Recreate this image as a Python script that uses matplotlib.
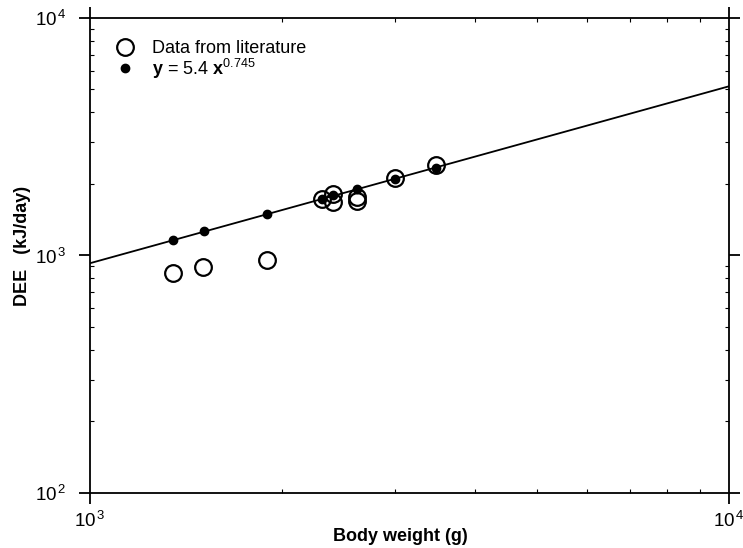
import matplotlib
matplotlib.use("Agg")
import matplotlib.pyplot as plt
import numpy as np
from matplotlib.ticker import LogLocator, FixedLocator, NullFormatter, FixedFormatter

plt.rcParams['font.family'] = ['Liberation Sans', 'DejaVu Sans']
plt.rcParams['mathtext.fontset'] = 'custom'
plt.rcParams['mathtext.rm'] = 'Liberation Sans'
plt.rcParams['mathtext.it'] = 'Liberation Sans:italic'
plt.rcParams['mathtext.bf'] = 'Liberation Sans:bold'

# Data from literature (open circles)
lit_weight = [1350, 1505, 1895, 2305, 2403, 2403, 2615, 2615, 3001, 3479]
lit_dee = [847, 897, 957, 1724, 1815, 1685, 1760, 1690, 2114, 2404]

# Predicted values y = 5.4 x^0.745 (filled dots)
pred_weight = [1350, 1508, 1895, 2305, 2403, 2615, 3001, 3479]
pred_dee = [1162, 1272, 1495, 1724, 1798, 1900, 2100, 2329]

fit_a = 5.4
fit_b = 0.745
x_range = [1000, 10000]
y_range = [100, 10000]

fig = plt.figure(figsize=(7.43, 5.48), dpi=100)
ax = fig.add_axes([0.1211, 0.1004, 0.8601, 0.8668])
ax.set_xscale('log')
ax.set_yscale('log')
ax.set_xlim(*x_range)
ax.set_ylim(*y_range)

xl = np.logspace(3, 4, 200)
ax.plot(xl, fit_a * xl ** fit_b, color='black', lw=1.3, zorder=2)

ax.plot(lit_weight, lit_dee, 'o', ms=12, mfc='none', mec='black', mew=1.6,
        zorder=3, label='Data from literature')
ax.plot(pred_weight, pred_dee, 'o', ms=6, color='black', zorder=4,
        label=r'$\mathbf{y}$ = 5.4 $\mathbf{x}^{0.745}$')

leg = ax.legend(loc='upper left', bbox_to_anchor=(0.008, 0.987), frameon=False,
                fontsize=13, handletextpad=0.75, borderaxespad=0.5,
                labelspacing=-0.05, handlelength=1.5)

for s in ax.spines.values():
    s.set_linewidth(1.3)

ax.xaxis.set_major_locator(FixedLocator([1e3, 1e4]))
ax.yaxis.set_major_locator(FixedLocator([1e2, 1e3, 1e4]))
ax.xaxis.set_minor_locator(LogLocator(base=10, subs=np.arange(2, 10)))
ax.yaxis.set_minor_locator(LogLocator(base=10, subs=np.arange(2, 10)))
ax.xaxis.set_minor_formatter(NullFormatter())
ax.yaxis.set_minor_formatter(NullFormatter())
ax.xaxis.set_major_formatter(FixedFormatter([r'$\mathrm{10^{\,3}}$', r'$\mathrm{10^{\,4}}$']))
ax.yaxis.set_major_formatter(FixedFormatter([r'$\mathrm{10^{\,2}}$', r'$\mathrm{10^{\,3}}$', r'$\mathrm{10^{\,4}}$']))

ax.tick_params(which='major', direction='out', length=8, width=1.3,
               top=True, right=True, labelsize=13.5)
ax.tick_params(axis='y', which='major', pad=9)
ax.tick_params(axis='x', which='major', pad=5)
ax.tick_params(which='minor', direction='in', length=3, width=0.8,
               top=True, right=True)

ax.set_xlabel('Body weight (g)', fontsize=13, fontweight='bold', labelpad=1)
ax.set_ylabel('DEE   (kJ/day)', fontsize=13, fontweight='bold')
ax.yaxis.set_label_coords(-0.092, 0.52)
ax.xaxis.set_label_coords(0.486, -0.073)

fig.savefig('out.png', dpi=100)
